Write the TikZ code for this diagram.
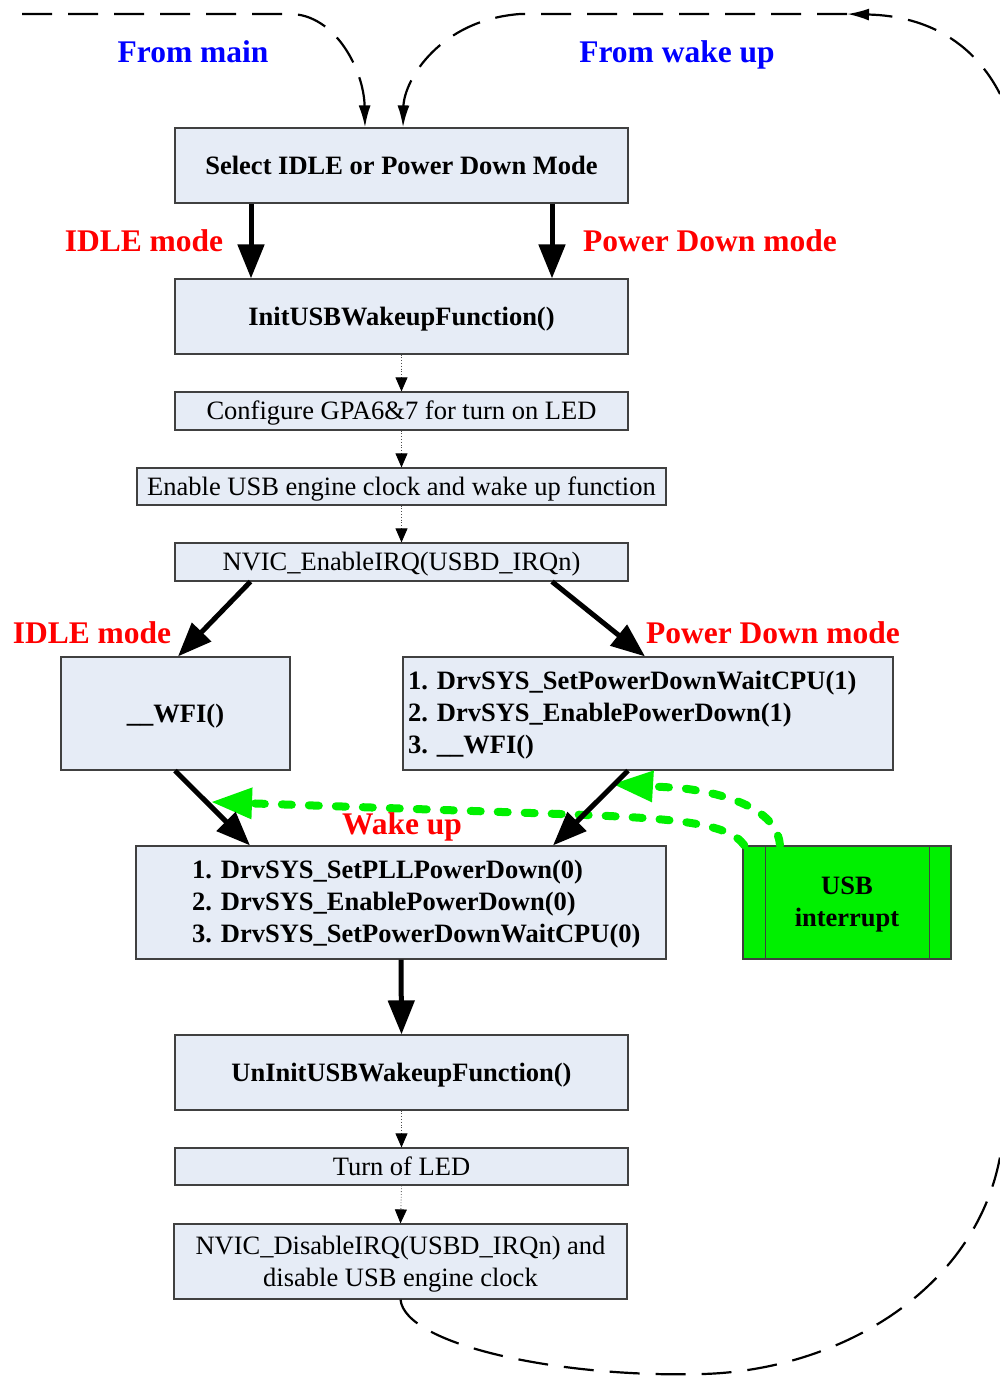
\documentclass[tikz,border=0pt]{standalone}
\usepackage{fontspec}
\setmainfont{Liberation Serif}
\usetikzlibrary{arrows.meta,calc}
\definecolor{boxfill}{RGB}{230,236,246}
\definecolor{boxline}{RGB}{64,64,64}
\definecolor{wakegreen}{RGB}{0,240,0}
\definecolor{modered}{RGB}{255,0,0}
\definecolor{fromblue}{RGB}{0,0,255}
\begin{document}
\begin{tikzpicture}[x=1pt,y=-1pt,
  box/.style={draw=boxline, line width=1.2pt, fill=boxfill, inner sep=0pt,
    text height=17.5pt, text depth=0pt, font=\fontsize{26.5}{32}\selectfont},
  boldbox/.style={box, font=\fontsize{26.5}{32}\selectfont\bfseries},
  listtext/.style={inner sep=0pt, align=left, anchor=west,
    font=\fontsize{26.5}{32}\selectfont\bfseries},
  modelabel/.style={text=modered, inner sep=0pt, text height=21pt, text depth=0pt,
    font=\fontsize{31.5}{36}\selectfont\bfseries},
  fromlabel/.style={text=fromblue, inner sep=0pt, text height=21pt, text depth=0pt,
    font=\fontsize{31.5}{36}\selectfont\bfseries},
  bigarrow/.style={line width=5pt, -{Triangle[length=34pt,width=26pt]}},
  smallarrow/.style={line width=0.8pt, draw=black!70, dotted,
    -{Triangle[length=14pt,width=12pt,fill=black,color=black]}},
  cycleline/.style={line width=2.2pt, dash pattern=on 30pt off 16pt},
  cyclearrow/.style={cycleline, -{Latex[length=22pt,width=12pt]}},
  greenflow/.style={draw=wakegreen, line width=8pt, line cap=round,
    dash pattern=on 10pt off 17pt,
    -{Triangle[length=40pt,width=32pt,line width=0pt,fill=wakegreen,color=wakegreen]}}
]
\useasboundingbox (0,0) rectangle (1000,1376);

% process boxes
\node[boldbox, minimum width=453pt, minimum height=75pt] (sel) at (401.5,165.5) {Select IDLE or Power Down Mode};
\node[boldbox, minimum width=453pt, minimum height=75pt] (init) at (401.5,316.5) {InitUSBWakeupFunction()};
\node[box, minimum width=453pt, minimum height=38pt] (conf) at (401.5,411) {Configure GPA6\&7 for turn on LED};
\node[box, minimum width=529pt, minimum height=37pt] (eng) at (401.5,486.5) {Enable USB engine clock and wake up function};
\node[box, minimum width=453pt, minimum height=38pt] (nven) at (401.5,562) {NVIC\_EnableIRQ(USBD\_IRQn)};
\node[boldbox, minimum width=229pt, minimum height=113pt] (wfi) at (175.5,713.5) {\_\_WFI()};
\node[boldbox, minimum width=490pt, minimum height=113pt] (pd) at (648,713.5) {};
\node[listtext] (pdtxt) at (408,715) {1. DrvSYS\_SetPowerDownWaitCPU(1)\\2. DrvSYS\_EnablePowerDown(1)\\3. \_\_WFI()};
\node[boldbox, minimum width=530pt, minimum height=113pt] (wake) at (401,902.5) {};
\node[listtext] (waketxt) at (192,904) {1. DrvSYS\_SetPLLPowerDown(0)\\2. DrvSYS\_EnablePowerDown(0)\\3. DrvSYS\_SetPowerDownWaitCPU(0)};
\node[draw=boxline, line width=1.2pt, fill=wakegreen, minimum width=208pt, minimum height=113pt, inner sep=0pt] (usb) at (847,902.5) {};
\draw[boxline, line width=1.2pt] ([xshift=23pt]usb.north west) -- ([xshift=23pt]usb.south west)
  ([xshift=-22pt]usb.north east) -- ([xshift=-22pt]usb.south east);
\node[align=center, inner sep=0pt, font=\fontsize{26.5}{32}\selectfont\bfseries] (usbtxt) at (847,905) {USB\\interrupt};
\node[boldbox, minimum width=453pt, minimum height=75pt] (unin) at (401.5,1072.5) {UnInitUSBWakeupFunction()};
\node[box, minimum width=453pt, minimum height=37pt] (led) at (401.5,1166.5) {Turn of LED};
\node[box, minimum width=453pt, minimum height=75pt] (dis) at (400.5,1261.5) {};
\node[align=center, inner sep=0pt, font=\fontsize{26.5}{32}\selectfont] (distxt) at (400.5,1264.5) {NVIC\_DisableIRQ(USBD\_IRQn) and\\disable USB engine clock};

% labels
\node[fromlabel] (lmain) at (193,52) {From main};
\node[fromlabel] (lwake) at (677,52) {From wake up};
\node[modelabel] (lidle1) at (144,241) {IDLE mode};
\node[modelabel] (lpd1) at (710,241) {Power Down mode};
\node[modelabel] (lidle2) at (92,633) {IDLE mode};
\node[modelabel] (lpd2) at (773,633) {Power Down mode};

% loose ends of the outer loop
\coordinate (mainin) at (22,14);
\coordinate (turn) at (847,14);
\coordinate (wakein) at (1000,94);
\coordinate (wakeout) at (1000,1157);
\coordinate (wfitarget) at (212,802);
\coordinate (pdtarget) at (613,784);

% wake-up signal from the USB interrupt
\draw[greenflow] ([xshift=2pt]usb.north west) .. controls (728,822) and (670,818) .. (560,814) -- (wfitarget);
\draw[greenflow] ([xshift=-67pt]usb.north) .. controls (778,815) and (740,795) .. (680,788) -- (pdtarget);
\node[modelabel] (lwakeup) at (402,824) {Wake up};

% main flow
\draw[bigarrow] ([xshift=-150.5pt]sel.south) -- ([xshift=-150.5pt]init.north);
\draw[bigarrow] ([xshift=150.5pt]sel.south) -- ([xshift=150.5pt]init.north);
\draw[smallarrow] (init.south) -- (conf.north);
\draw[smallarrow] (conf.south) -- (eng.north);
\draw[smallarrow] (eng.south) -- (nven.north);
\draw[bigarrow] ([xshift=-151pt]nven.south) -- ([xshift=2.5pt]wfi.north);
\draw[bigarrow] ([xshift=150.5pt]nven.south) -- ([xshift=-3pt]pd.north);
\draw[bigarrow] ([xshift=-0.5pt]wfi.south) -- ([xshift=-151pt]wake.north);
\draw[bigarrow] ([xshift=-20pt]pd.south) -- ([xshift=152pt]wake.north);
\draw[bigarrow] (wake.south) -- (unin.north);
\draw[smallarrow] (unin.south) -- (led.north);
\draw[smallarrow] (led.south) -- (dis.north);

% outer loop
\draw[cyclearrow] (mainin) -- (290,14) .. controls (335,14) and (364,70) .. ([xshift=-36.5pt]sel.north);
\draw[cyclearrow] (wakein) .. controls (975,45) and (930,16) .. (turn);
\draw[cyclearrow] (turn) -- (520,14) .. controls (440,20) and (404,80) .. ([xshift=1.5pt]sel.north);
\draw[cycleline] (dis.south) .. controls (405,1345) and (560,1378) .. (703,1374) .. controls (840,1370) and (975,1290) .. (wakeout);
\end{tikzpicture}
\end{document}
